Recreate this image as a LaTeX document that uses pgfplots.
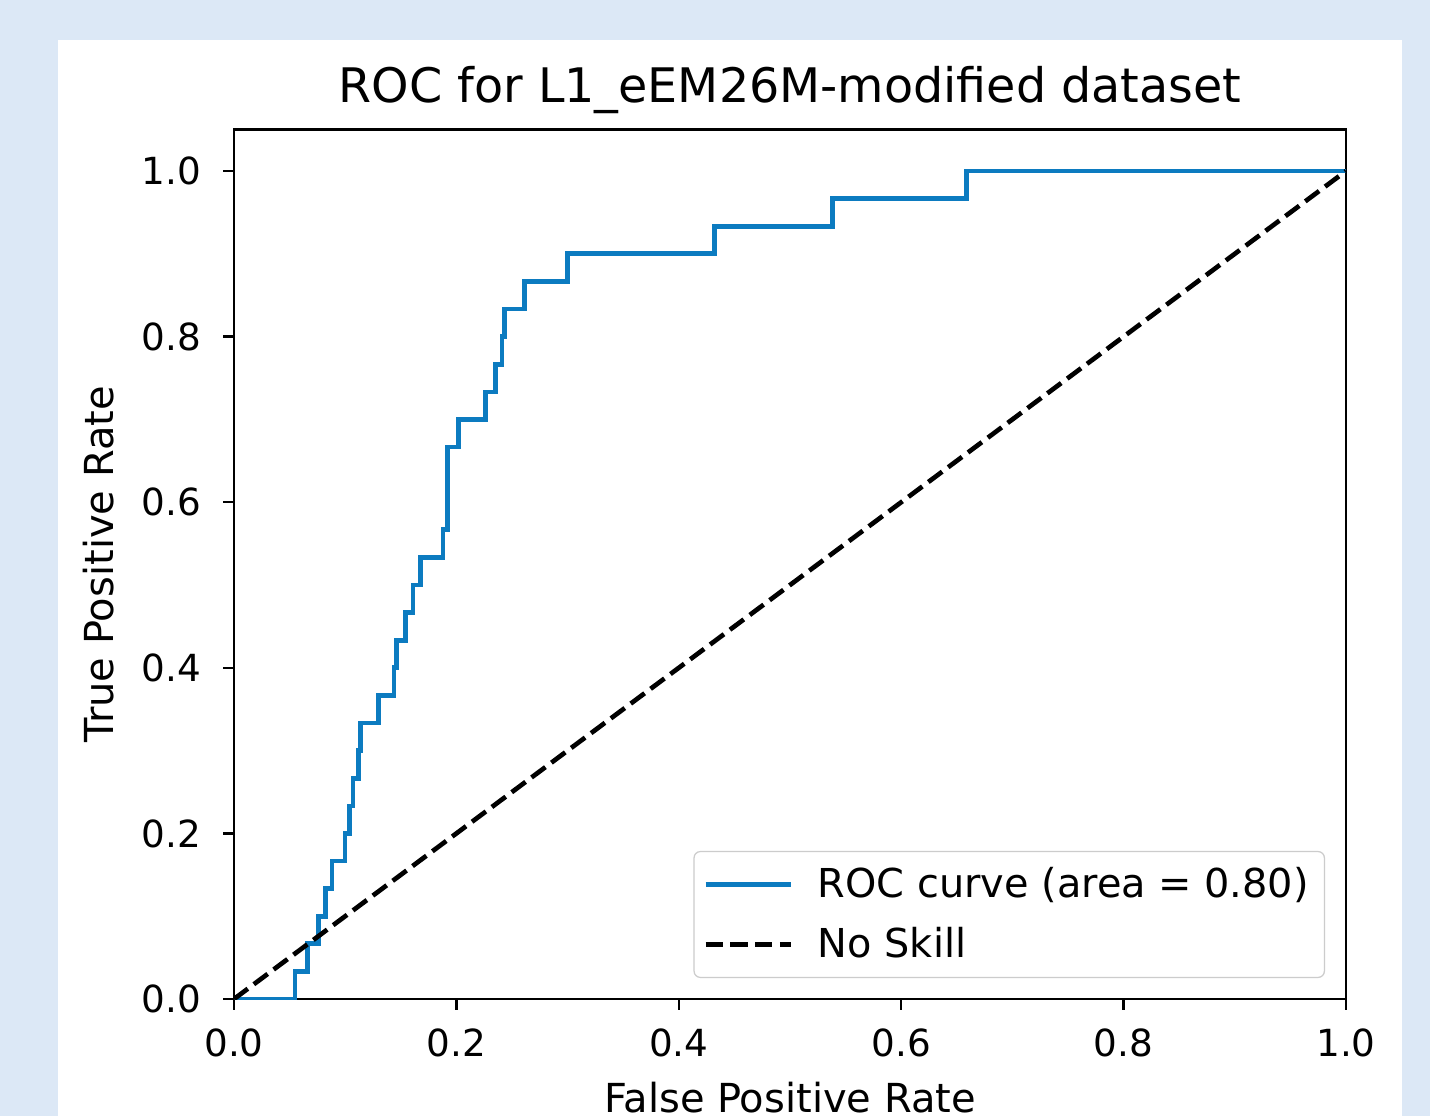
\documentclass[border=0pt]{standalone}
\usepackage{pgfplots}
\pgfplotsset{compat=1.18}
\usepackage{fontspec}
\setmainfont{DejaVu Sans}
\definecolor{bgblue}{RGB}{220,232,246}
\definecolor{rocblue}{RGB}{12,123,192}
\begin{document}
\begin{tikzpicture}
\useasboundingbox (-75.21pt,-37.61pt) rectangle (384.43pt,321.11pt);
\fill[bgblue] (-75.21pt,-37.61pt) rectangle (384.43pt,321.11pt);
\fill[white] (-56.57pt,-37.61pt) rectangle (375.43pt,308.25pt);
\begin{axis}[
  at={(0pt,0pt)}, anchor=south west,
  scale only axis, width=357.43pt, height=279.45pt,
  xmin=0, xmax=1, ymin=0, ymax=1.05,
  axis line style={line width=0.8pt},
  xtick={0,0.2,0.4,0.6,0.8,1.0},
  ytick={0,0.2,0.4,0.6,0.8,1.0},
  xtick pos=bottom, ytick pos=left,
  tick align=outside, major tick length=3.5pt,
  tick style={line width=0.8pt, black},
  /pgf/number format/.cd, fixed, fixed zerofill, precision=1, assume math mode=true,
  /pgfplots/.cd,
  ticklabel style={font=\fontsize{12}{14}\selectfont},
  xticklabel style={anchor=base, yshift=-15.1pt},
  yticklabel style={anchor=east, xshift=-3.5pt},
  title={ROC for L1\_eEM26M-modified dataset},
  title style={font=\fontsize{15.3}{18}\selectfont, at={(axis description cs:0.5,1)}, anchor=base, yshift=2.6pt},
  xlabel={False Positive Rate},
  ylabel={True Positive Rate},
  label style={font=\fontsize{12.85}{15}\selectfont},
  xlabel style={at={(axis description cs:0.5,0)}, anchor=base, yshift=-36.6pt},
  ylabel style={at={(axis description cs:-0.108,0.5)}, anchor=base, rotate=0},
  legend cell align=left,
  legend style={at={(rel axis cs:1,0)}, anchor=south east, xshift=-6.75pt, yshift=6.75pt,
    draw=black!20, rounded corners=2pt, font=\fontsize{12.8}{15}\selectfont,
    inner xsep=3pt, inner ysep=3pt, row sep=4pt,
    /tikz/every odd column/.append style={column sep=6pt}},
  legend image code/.code={\draw[#1] (0pt,0pt) -- (27.3pt,0pt);},
]
\addplot[rocblue, line width=1.5pt, sharp plot] coordinates {
(0,0) (0.055,0) (0.055,0.0333) (0.066,0.0333) (0.066,0.0667) (0.076,0.0667)
(0.076,0.1) (0.082,0.1) (0.082,0.1333) (0.088,0.1333) (0.088,0.1667)
(0.0998,0.1667) (0.0998,0.2) (0.104,0.2) (0.104,0.2333) (0.107,0.2333)
(0.107,0.2667) (0.112,0.2667) (0.112,0.3) (0.114,0.3) (0.114,0.3333)
(0.130,0.3333) (0.130,0.3667) (0.144,0.3667) (0.144,0.4) (0.146,0.4)
(0.146,0.4333) (0.154,0.4333) (0.154,0.4667) (0.161,0.4667) (0.161,0.5)
(0.168,0.5) (0.168,0.5333) (0.188,0.5333) (0.188,0.5667) (0.192,0.5667)
(0.192,0.6667) (0.202,0.6667) (0.202,0.7) (0.226,0.7) (0.226,0.7333)
(0.235,0.7333) (0.235,0.7667) (0.241,0.7667) (0.241,0.8) (0.243,0.8)
(0.243,0.8333) (0.261,0.8333) (0.261,0.8667) (0.300,0.8667) (0.300,0.9)
(0.432,0.9) (0.432,0.9333) (0.538,0.9333) (0.538,0.9667) (0.659,0.9667)
(0.659,1) (1,1)
};
\addlegendentry{ROC curve (area = 0.80)}
\addplot[black, line width=1.5pt, dash pattern=on 5.55pt off 2.4pt] coordinates {(0,0) (1,1)};
\addlegendentry{No Skill}
\end{axis}
\end{tikzpicture}
\end{document}
